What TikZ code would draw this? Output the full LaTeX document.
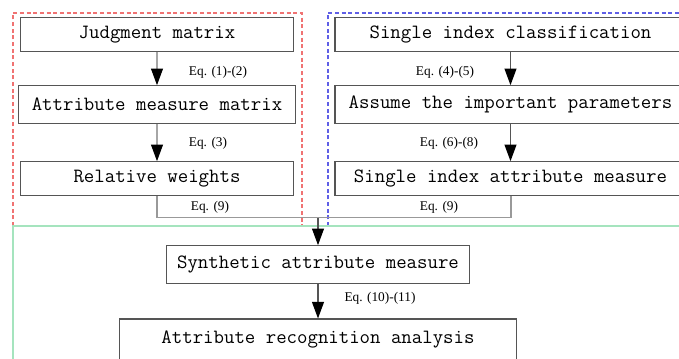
\documentclass[tikz,border=0pt]{standalone}
\usepackage{fontspec}
\newfontfamily\eqfont{Liberation Serif}
\usetikzlibrary{arrows.meta}
\definecolor{redd}{RGB}{240,115,115}
\definecolor{blued}{RGB}{95,95,230}
\definecolor{greenl}{RGB}{165,228,190}
\definecolor{boxc}{RGB}{85,85,85}
\tikzset{
  box/.style={draw=boxc, line width=0.8pt, inner sep=0pt, anchor=center,
    font=\ttfamily\fontsize{15.2}{18}\selectfont},
  flow/.style={draw=#1, line width=0.9pt, -{Triangle[width=9pt,length=12.5pt,color=black]}},
  link/.style={draw=gray!80, line width=0.9pt},
  eq/.style={font=\eqfont\fontsize{10}{12}\selectfont, inner sep=0pt},
  frame/.style={draw=#1, line width=0.8pt, dash pattern=on 3pt off 2pt},
}
\begin{document}
\begin{tikzpicture}[x=0.75pt,y=-0.75pt]
\clip (0,0) rectangle (679,358);
\fill[white] (0,0) rectangle (679,358);
% group frames
\draw[frame=redd] (13,226) -- (13,13) -- (302,13) -- (302,226);
\draw[frame=blued] (328,226) -- (328,13) -- (700,13);
\draw[greenl, line width=1.5pt] (13,380) -- (13,226) -- (700,226);
% left column
\node[box, minimum width=272.6*0.75pt, minimum height=33.7*0.75pt] (jm) at (157,34.2) {Judgment matrix};
\node[box, minimum width=277.4*0.75pt, minimum height=37.6*0.75pt] (amm) at (157,104.5) {Attribute measure matrix};
\node[box, minimum width=272.6*0.75pt, minimum height=34*0.75pt] (rw) at (157,178.7) {Relative weights};
% right column
\node[box, minimum width=351*0.75pt, minimum height=33.7*0.75pt] (sic) at (510.5,34.2) {Single index classification};
\node[box, minimum width=351*0.75pt, minimum height=37.6*0.75pt] (atp) at (510.5,104.5) {Assume the important parameters};
\node[box, minimum width=351*0.75pt, minimum height=34*0.75pt] (sim) at (510.5,178.7) {Single index attribute measure};
% bottom
\node[box, minimum width=302.6*0.75pt, minimum height=37.6*0.75pt] (syn) at (318,264.5) {Synthetic attribute measure};
\node[box, minimum width=397.7*0.75pt, minimum height=41*0.75pt] (ara) at (318,339.5) {Attribute recognition analysis};
% arrows
\draw[flow=gray!70] (jm) -- (amm);
\draw[flow=gray!70] (amm) -- (rw);
\draw[flow=boxc] (sic) -- (atp);
\draw[flow=boxc] (atp) -- (sim);
\coordinate (join) at (318,217.7);
\draw[link] (rw.south) |- (join);
\draw[link] (sim.south -| 511,0) |- (join);
\draw[flow=boxc] (join) -- (syn);
\draw[flow=boxc] (syn) -- (ara);
% labels
\node[eq] (e1) at (218,72) {Eq. (1)-(2)};
\node[eq] (e2) at (208,143) {Eq. (3)};
\node[eq] (e3) at (445,72) {Eq. (4)-(5)};
\node[eq] (e4) at (449,143) {Eq. (6)-(8)};
\node[eq] (e5) at (210,207) {Eq. (9)};
\node[eq] (e6) at (439,207) {Eq. (9)};
\node[eq] (e7) at (380,298) {Eq. (10)-(11)};
\end{tikzpicture}
\end{document}
